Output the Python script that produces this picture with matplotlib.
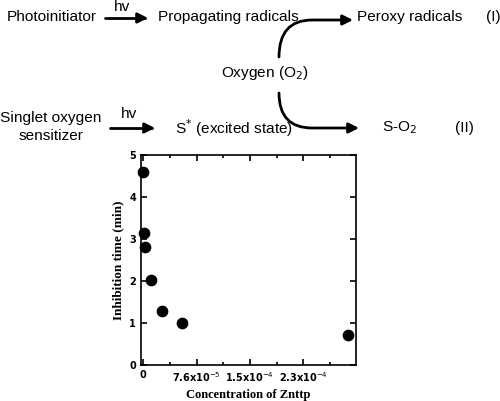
import matplotlib
matplotlib.use("Agg")
import matplotlib.pyplot as plt
from matplotlib.path import Path
from matplotlib.patches import FancyArrowPatch

conc = [0.0, 1e-6, 3e-6, 1.1e-5, 2.65e-5, 5.5e-5, 2.92e-4]
inhib = [4.6, 3.15, 2.82, 2.02, 1.29, 0.99, 0.71]
xticks = [0, 7.6e-5, 1.52e-4, 2.28e-4]
xticklabels = ["0", r"7.6x10$^{-5}$", r"1.5x10$^{-4}$", r"2.3x10$^{-4}$"]

W, H = 500, 401
fig = plt.figure(figsize=(5, 4.01), dpi=100)

def P(x, y):
    return (x / W, 1 - y / H)

sans = "Liberation Sans"
fs = 11.1
def t(x, y, s, ha="left"):
    fig.text(*P(x, y), s, ha=ha, va="center", family=sans, fontsize=fs)

t(7, 17, "Photoinitiator")
t(122, 7, "hv", ha="center")
t(158, 17, "Propagating radicals")
t(357, 17, "Peroxy radicals")
t(486, 17, "(I)")
t(265, 73, "Oxygen (O$_2$)", ha="center")
t(51, 118, "Singlet oxygen", ha="center")
t(51, 136, "sensitizer", ha="center")
t(129, 114, "hv", ha="center")
t(175, 128, "S$^{*}$ (excited state)")
t(382, 128, "S-O$_2$")
t(455, 128, "(II)")

def arrow(pts, codes):
    path = Path([P(*p) for p in pts], codes)
    a = FancyArrowPatch(path=path, arrowstyle="-|>,head_length=6,head_width=3",
                        lw=2, color="black", transform=fig.transFigure)
    fig.patches.append(a)

arrow([(105, 18), (148, 18)], [Path.MOVETO, Path.LINETO])
arrow([(110, 128), (155, 128)], [Path.MOVETO, Path.LINETO])
arrow([(279, 57), (279, 20), (312, 20), (353, 20)],
      [Path.MOVETO, Path.CURVE3, Path.CURVE3, Path.LINETO])
arrow([(279, 93), (279, 128), (312, 128), (359, 128)],
      [Path.MOVETO, Path.CURVE3, Path.CURVE3, Path.LINETO])

ax = fig.add_axes([141 / W, 1 - 365 / H, (356 - 141) / W, (365 - 155) / H])
ax.scatter(conc, inhib, s=55, color="black", zorder=3, clip_on=False)
ax.set_xlim(-3e-6, 3.03e-4)
ax.set_ylim(0, 5)
ax.set_xticks(xticks)
ax.set_xticklabels(xticklabels)
ax.set_xticks([3.8e-5, 1.14e-4, 1.9e-4, 2.66e-4], minor=True)
ax.set_yticks(range(6))
ax.tick_params(which="both", direction="in", top=True, right=True, width=1.2)
ax.tick_params(which="major", length=4)
ax.tick_params(which="minor", length=2.5)
for lab in ax.get_xticklabels() + ax.get_yticklabels():
    lab.set_family("DejaVu Sans")
    lab.set_fontweight("bold")
    lab.set_fontsize(7)
for s in ax.spines.values():
    s.set_linewidth(1.2)
ax.set_xlabel("Concentration of Znttp", family="Liberation Serif", fontweight="bold", fontsize=9)
ax.set_ylabel("Inhibition time (min)", family="Liberation Serif", fontweight="bold", fontsize=9.5)
fig.savefig("out.png", dpi=100)
